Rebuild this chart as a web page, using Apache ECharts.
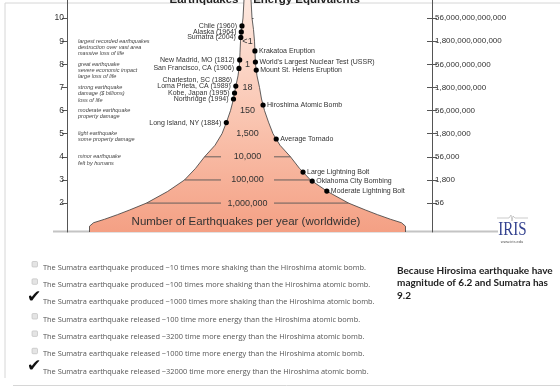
<!DOCTYPE html>
<html>
<head>
<meta charset="utf-8">
<script src="https://cdn.jsdelivr.net/npm/echarts@6/dist/echarts.min.js"></script>
<style>
  html, body { margin: 0; padding: 0; background: #fff; }
  #chart { width: 560px; height: 388px; }
</style>
</head>
<body>
<div id="chart"></div>
<script>
// magnitude ticks (left) and energy equivalent printed next to them (right)
const magnitudes = [2, 3, 4, 5, 6, 7, 8, 9, 10];
const energyLabels = ['56', '1,800', '56,000', '1,800,000', '56,000,000', '1,800,000,000',
    '56,000,000,000', '1,800,000,000,000', '56,000,000,000,000'];

// earthquakes per year, printed inside the funnel
const countMags = [9, 8, 7, 6, 5, 4, 3, 2];
const countLabels = ['<1', '1', '18', '150', '1,500', '10,000', '100,000', '1,000,000'];

// funnel outline: magnitude -> half width
const funnelMag  = [0.75, 1.0, 1.15, 1.3, 1.5, 1.7, 2.0, 2.5, 3.0, 3.5, 4.0, 4.5, 5.0, 5.5, 6.0, 6.5, 7.0, 7.5, 8.0, 8.5, 9.0, 9.5, 10.0, 10.8];
const funnelHalf = [158, 158, 154, 143, 130, 118, 101, 80, 63, 52, 43, 32.5, 25.5, 21, 17, 14, 12, 9.5, 8, 7.5, 7, 6, 4.5, 3.5];

// descriptions down the left side
const descMags = [9, 8, 7, 6, 5, 4];
const descLines = [
    ['largest recorded earthquakes', 'destruction over vast area', 'massive loss of life'],
    ['great earthquake', 'severe economic impact', 'large loss of life'],
    ['strong earthquake', 'damage ($ billions)', 'loss of life'],
    ['moderate earthquake', 'property damage'],
    ['light earthquake', 'some property damage'],
    ['minor earthquake', 'felt by humans']
];

// earthquakes on the left edge
const quakeNames = ['Chile (1960)', 'Alaska (1964)', 'Sumatra (2004)', 'New Madrid, MO (1812)',
    'San Francisco, CA (1906)', 'Charleston, SC (1886)', 'Loma Prieta, CA (1989)',
    'Kobe, Japan (1995)', 'Northridge (1994)', 'Long Island, NY (1884)'];
const quakeMags = [9.66, 9.40, 9.16, 8.19, 7.82, 7.34, 7.06, 6.76, 6.50, 5.48];
const quakeMarked = [true, true, true, true, true, false, true, true, true, true];

// energy equivalents on the right edge
const energyNames = ['Krakatoa Eruption', "World's Largest Nuclear Test (USSR)", 'Mount St. Helens Eruption',
    'Hiroshima Atomic Bomb', 'Average Tornado', 'Large Lightning Bolt', 'Oklahoma City Bombing',
    'Moderate Lightning Bolt'];
const energyMags = [8.58, 8.10, 7.75, 6.24, 4.77, 3.34, 2.95, 2.52];

const answers = [
    'The Sumatra earthquake produced ~10 times more shaking than the Hiroshima atomic bomb.',
    'The Sumatra earthquake produced ~100 times more shaking than the Hiroshima atomic bomb.',
    'The Sumatra earthquake produced ~1000 times more shaking than the Hiroshima atomic bomb.',
    'The Sumatra earthquake released ~100 time more energy than the Hiroshima atomic bomb.',
    'The Sumatra earthquake released ~3200 time more energy than the Hiroshima atomic bomb.',
    'The Sumatra earthquake released ~1000 time more energy than the Hiroshima atomic bomb.',
    'The Sumatra earthquake released ~32000 time more energy than the Hiroshima atomic bomb.'
];
const answerChecked = [false, false, true, false, false, false, true];
const noteLines = ['Because Hirosima earthquake have', 'magnitude of 6.2 and Sumatra has', '9.2'];

const yMin = 0.75, yMax = 10.78;
const xMin = -180.5, xMax = 184.5;
const FONT = 'Liberation Sans';

function halfAt(m) {
    for (let i = 1; i < funnelMag.length; i++) {
        if (m <= funnelMag[i]) {
            const t = (m - funnelMag[i - 1]) / (funnelMag[i] - funnelMag[i - 1]);
            return funnelHalf[i - 1] + t * (funnelHalf[i] - funnelHalf[i - 1]);
        }
    }
    return funnelHalf[funnelHalf.length - 1];
}

function yAxisBase(position) {
    return {
        type: 'value', position: position, min: yMin, max: yMax,
        splitLine: {show: false},
        axisLine: {show: false},
        axisTick: {show: false},
        axisLabel: {show: false}
    };
}

function eventSeries(names, mags, side, marked) {
    return {
        type: 'custom',
        silent: true,
        z: 5,
        encode: {x: 0, y: 1},
        data: mags.map((m, i) => [side * halfAt(m), m, i]),
        renderItem: function (params, api) {
            const i = api.value(2);
            const p = api.coord([api.value(0), api.value(1)]);
            const children = [];
            if (!marked || marked[i]) {
                children.push({type: 'circle', shape: {cx: p[0], cy: p[1], r: 2.6}, style: {fill: '#000'}});
            }
            children.push({
                type: 'text',
                x: side < 0 ? p[0] - 5 : p[0] + 4,
                y: p[1],
                style: {
                    text: names[i], align: side < 0 ? 'right' : 'left', verticalAlign: 'middle',
                    fontSize: 7, fontFamily: FONT, fill: '#333'
                }
            });
            return {type: 'group', children: children};
        }
    };
}

const chart = echarts.init(document.getElementById('chart'));

const graphics = [
    // frame
    {type: 'line', shape: {x1: 5, y1: 3, x2: 560, y2: 3}, style: {stroke: '#d6d6d6', lineWidth: 1}},
    {type: 'line', shape: {x1: 5, y1: 3, x2: 5, y2: 378}, style: {stroke: '#d6d6d6', lineWidth: 1}},
    {type: 'line', shape: {x1: 13, y1: 385.5, x2: 560, y2: 385.5}, style: {stroke: '#d6d6d6', lineWidth: 1}},
    // cut-off title
    {type: 'text', x: 204, y: -0.5, style: {text: 'Earthquakes', align: 'center', verticalAlign: 'middle',
        fontSize: 11.5, fontWeight: 'bold', fontFamily: FONT, fill: '#222'}},
    {type: 'text', x: 306.5, y: -0.5, style: {text: 'Energy Equivalents', align: 'center', verticalAlign: 'middle',
        fontSize: 11.5, fontWeight: 'bold', fontFamily: FONT, fill: '#222'}},
    // base line under the funnel
    {type: 'line', shape: {x1: 53, y1: 231.5, x2: 498, y2: 231.5}, style: {stroke: '#c4c4c4', lineWidth: 2}},
    {type: 'text', x: 246, y: 222, z: 10, style: {text: 'Number of Earthquakes per year (worldwide)',
        align: 'center', verticalAlign: 'middle', fontSize: 11.5, fontFamily: FONT, fill: '#333'}},
    // IRIS logo
    {type: 'polyline', shape: {points: [[497, 218], [509, 218], [511, 215], [512, 221], [513, 216], [515, 218], [528, 218]]},
        style: {stroke: '#aaa', lineWidth: 0.6, fill: null}},
    {type: 'text', x: 512.5, y: 230, scaleY: 1.25, style: {text: 'IRIS', align: 'center', verticalAlign: 'middle',
        fontSize: 15, fontFamily: 'Liberation Serif', fill: '#34428f'}},
    {type: 'text', x: 512, y: 242, style: {text: 'www.iris.edu', align: 'center', verticalAlign: 'middle',
        fontSize: 4, fontFamily: FONT, fill: '#555'}}
];

answers.forEach(function (txt, i) {
    const ty = 267.5 + i * 17.35;
    if (!answerChecked[i]) {
        graphics.push({type: 'rect', shape: {x: 32, y: ty - 6, width: 5.5, height: 5.5, r: 1},
            style: {fill: '#e4e4e4', stroke: '#b8b8b8', lineWidth: 0.6}});
    }
    graphics.push({type: 'text', x: 43, y: ty, style: {text: txt, verticalAlign: 'middle',
        fontSize: 7.4, fontFamily: 'Open Sans', fill: '#555'}});
    if (answerChecked[i]) {
        graphics.push({type: 'text', x: 34, y: ty - 5, z: 20, style: {text: '\u2714', align: 'center', verticalAlign: 'middle',
            fontSize: 17, fontFamily: 'DejaVu Sans', fill: '#111'}});
    }
});

noteLines.forEach(function (txt, i) {
    graphics.push({type: 'text', x: 397, y: 270.5 + i * 12.6, style: {text: txt, verticalAlign: 'middle',
        fontSize: 10, fontWeight: 'bold', fontFamily: 'Lato', fill: '#222'}});
});

chart.setOption({
    animation: false,
    backgroundColor: '#fff',
    grid: {left: 67, right: 128, top: 0, height: 232, outerBoundsMode: 'none'},
    xAxis: {type: 'value', min: xMin, max: xMax, show: false},
    yAxis: [
        Object.assign(yAxisBase('left'), {
            axisLine: {show: true, onZero: false, lineStyle: {color: '#555', width: 1}},
            axisTick: {show: true, length: 5, customValues: magnitudes, lineStyle: {color: '#555'}},
            axisLabel: {show: true, customValues: magnitudes, margin: 3, fontSize: 8.5, fontFamily: FONT, color: '#333'}
        }),
        Object.assign(yAxisBase('left'), {
            axisTick: {show: true, inside: true, length: 6, customValues: magnitudes, lineStyle: {color: '#555'}}
        }),
        Object.assign(yAxisBase('right'), {
            axisLine: {show: true, onZero: false, lineStyle: {color: '#555', width: 1}},
            axisTick: {show: true, length: 5, customValues: magnitudes, lineStyle: {color: '#555'}},
            axisLabel: {show: true, customValues: magnitudes, margin: 3, fontSize: 8, fontFamily: FONT, color: '#333',
                formatter: function (v) { return energyLabels[magnitudes.indexOf(Math.round(v))]; }}
        }),
        Object.assign(yAxisBase('right'), {
            axisTick: {show: true, inside: true, length: 5, customValues: magnitudes, lineStyle: {color: '#555'}}
        })
    ],
    graphic: {elements: graphics},
    series: [
        {
            // the funnel
            type: 'custom',
            silent: true,
            z: 2,
            encode: {x: 0, y: 1},
            data: [[0, yMin]],
            renderItem: function (params, api) {
                const left = funnelMag.map((m, i) => api.coord([-funnelHalf[i], m]));
                const right = funnelMag.map((m, i) => api.coord([funnelHalf[i], m]));
                const outline = {stroke: '#3a3a3a', lineWidth: 0.8, fill: null};
                return {
                    type: 'group',
                    children: [
                        {type: 'polygon', shape: {points: left.concat(right.slice().reverse())},
                            style: {fill: new echarts.graphic.LinearGradient(0, 0, 0, 1, [
                                {offset: 0, color: '#fde8df'},
                                {offset: 0.5, color: '#fac6b2'},
                                {offset: 1, color: '#f4a084'}
                            ])}},
                        {type: 'polyline', shape: {points: left}, style: outline},
                        {type: 'polyline', shape: {points: right}, style: outline}
                    ]
                };
            }
        },
        {
            // yearly counts and level lines
            type: 'custom',
            silent: true,
            z: 4,
            encode: {x: 0, y: 1},
            data: countMags.map((m, i) => [0, m, i]),
            renderItem: function (params, api) {
                const m = api.value(1), i = api.value(2);
                const hw = halfAt(m), gap = 26.5;
                const c = api.coord([0, m]);
                const children = [];
                if (hw > gap) {
                    const l = api.coord([-hw, m]), r = api.coord([hw, m]);
                    const ls = {stroke: '#555', lineWidth: 0.9};
                    children.push({type: 'line', shape: {x1: l[0], y1: c[1], x2: c[0] - gap, y2: c[1]}, style: ls});
                    children.push({type: 'line', shape: {x1: c[0] + gap, y1: c[1], x2: r[0], y2: c[1]}, style: ls});
                }
                children.push({type: 'text', x: c[0], y: c[1], style: {text: countLabels[i], align: 'center',
                    verticalAlign: 'middle', fontSize: 9, fontFamily: FONT, fill: '#333'}});
                return {type: 'group', children: children};
            }
        },
        {
            // descriptions
            type: 'custom',
            silent: true,
            encode: {x: 0, y: 1},
            data: descMags.map((m, i) => [xMin, m, i]),
            renderItem: function (params, api) {
                const p = api.coord([xMin, api.value(1)]);
                return {type: 'text', x: p[0] + 11, y: p[1] - 3.2, style: {
                    text: descLines[api.value(2)].join('\n'), verticalAlign: 'top', lineHeight: 6.3,
                    fontSize: 5.5, fontStyle: 'italic', fontFamily: FONT, fill: '#444'}};
            }
        },
        eventSeries(quakeNames, quakeMags, -1, quakeMarked),
        eventSeries(energyNames, energyMags, 1, null)
    ]
});
</script>
</body>
</html>
